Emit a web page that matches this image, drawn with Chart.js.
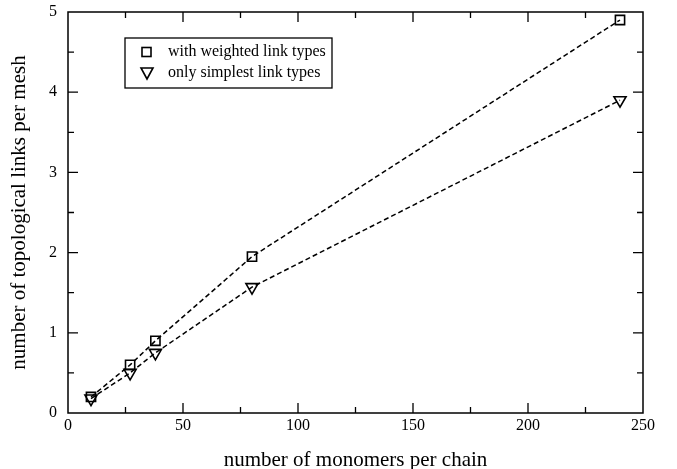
<!DOCTYPE html>
<html><head><meta charset="utf-8">
<script src="https://cdn.jsdelivr.net/npm/chart.js@4/dist/chart.umd.min.js"></script>
<style>html,body{margin:0;padding:0;background:#fff}#wrap{width:677px;height:469px}</style>
</head><body><div id="wrap"><canvas id="c" width="677" height="469"></canvas></div>
<script>
const monomers = [10, 27, 38, 80, 240];
const weighted = [0.2, 0.6, 0.9, 1.95, 4.9];
const simplest = [0.18, 0.5, 0.75, 1.57, 3.9];
const xTicks = [0, 50, 100, 150, 200, 250];
const yTicks = [0, 1, 2, 3, 4, 5];
const seriesNames = ["with weighted link types", "only simplest link types"];

const FONT = "'Liberation Serif', 'DejaVu Serif', serif";

const framePlugin = {
  id: 'frame',
  afterDraw(chart) {
    const ctx = chart.ctx, a = chart.chartArea;
    const xs = chart.scales.x, ys = chart.scales.y;
    ctx.save();
    ctx.strokeStyle = '#000';
    ctx.lineWidth = 1.5;
    ctx.strokeRect(a.left, a.top, a.right - a.left, a.bottom - a.top);
    ctx.lineWidth = 1.3;
    ctx.beginPath();
    for (let v = 0; v <= 250; v += 25) {
      const px = xs.getPixelForValue(v);
      const len = (v % 50 === 0) ? 10 : 6;
      if (v === 0 || v === 250) continue;
      ctx.moveTo(px, a.bottom); ctx.lineTo(px, a.bottom - len);
      ctx.moveTo(px, a.top); ctx.lineTo(px, a.top + len);
    }
    for (let v = 0; v <= 5; v += 0.5) {
      const py = ys.getPixelForValue(v);
      const len = (Math.abs(v - Math.round(v)) < 1e-6) ? 10 : 6;
      if (v === 0 || v === 5) continue;
      ctx.moveTo(a.left, py); ctx.lineTo(a.left + len, py);
      ctx.moveTo(a.right, py); ctx.lineTo(a.right - len, py);
    }
    ctx.stroke();
    // legend
    const bx = 125, by = 38, bw = 207, bh = 50;
    ctx.lineWidth = 1.3;
    ctx.strokeRect(bx, by, bw, bh);
    ctx.fillStyle = '#000';
    ctx.font = "16px " + FONT;
    ctx.textBaseline = 'middle';
    ctx.textAlign = 'left';
    const rows = [by + 14, by + 35];
    ctx.lineWidth = 1.6;
    ctx.strokeRect(142, rows[0] - 4.5, 9, 9);
    ctx.fillText(seriesNames[0], 168, rows[0]);
    ctx.beginPath();
    ctx.moveTo(141, rows[1] - 5);
    ctx.lineTo(153, rows[1] - 5);
    ctx.lineTo(147, rows[1] + 6);
    ctx.closePath();
    ctx.stroke();
    ctx.fillText(seriesNames[1], 168, rows[1]);
    ctx.restore();
  }
};

new Chart(document.getElementById('c'), {
  type: 'line',
  data: {
    datasets: [
      {
        label: seriesNames[0],
        data: monomers.map((x, i) => ({x, y: weighted[i]})),
        borderColor: '#000', borderWidth: 1.5, borderDash: [5, 3],
        pointStyle: 'rect', pointRadius: 6.5, pointBorderWidth: 1.6,
        pointBorderColor: '#000', pointBackgroundColor: 'rgba(0,0,0,0)',
        fill: false, tension: 0
      },
      {
        label: seriesNames[1],
        data: monomers.map((x, i) => ({x, y: simplest[i]})),
        borderColor: '#000', borderWidth: 1.5, borderDash: [5, 3],
        pointStyle: 'triangle', pointRotation: 180, pointRadius: 7, pointBorderWidth: 1.6,
        pointBorderColor: '#000', pointBackgroundColor: 'rgba(0,0,0,0)',
        fill: false, tension: 0
      }
    ]
  },
  options: {
    responsive: false,
    animation: false,
    devicePixelRatio: 1,
    layout: { padding: { top: 12, right: 34, left: 0, bottom: 0 } },
    plugins: { legend: { display: false }, tooltip: { enabled: false } },
    scales: {
      x: {
        type: 'linear', min: 0, max: 250,
        afterBuildTicks(s) { s.ticks = xTicks.map(v => ({value: v})); },
        afterFit(s) { s.height = 56; s.paddingLeft = 0; s.paddingRight = 0; },
        grid: { display: false, drawTicks: false },
        border: { display: false },
        ticks: { color: '#000', font: { family: FONT, size: 16 }, padding: 3, maxRotation: 0 },
        title: { display: true, text: 'number of monomers per chain', color: '#000',
                 font: { family: FONT, size: 21, lineHeight: 0.8 }, padding: { top: 0, bottom: 0 } }
      },
      y: {
        type: 'linear', min: 0, max: 5,
        afterBuildTicks(s) { s.ticks = yTicks.map(v => ({value: v})); },
        afterFit(s) { s.width = 68; s.paddingTop = 0; s.paddingBottom = 0; },
        grid: { display: false, drawTicks: false },
        border: { display: false },
        ticks: { color: '#000', font: { family: FONT, size: 16 }, padding: 11 },
        title: { display: true, text: 'number of topological links per mesh', color: '#000',
                 font: { family: FONT, size: 21 }, padding: { top: 7, bottom: 0 } }
      }
    }
  },
  plugins: [framePlugin]
});
</script>
</body></html>
